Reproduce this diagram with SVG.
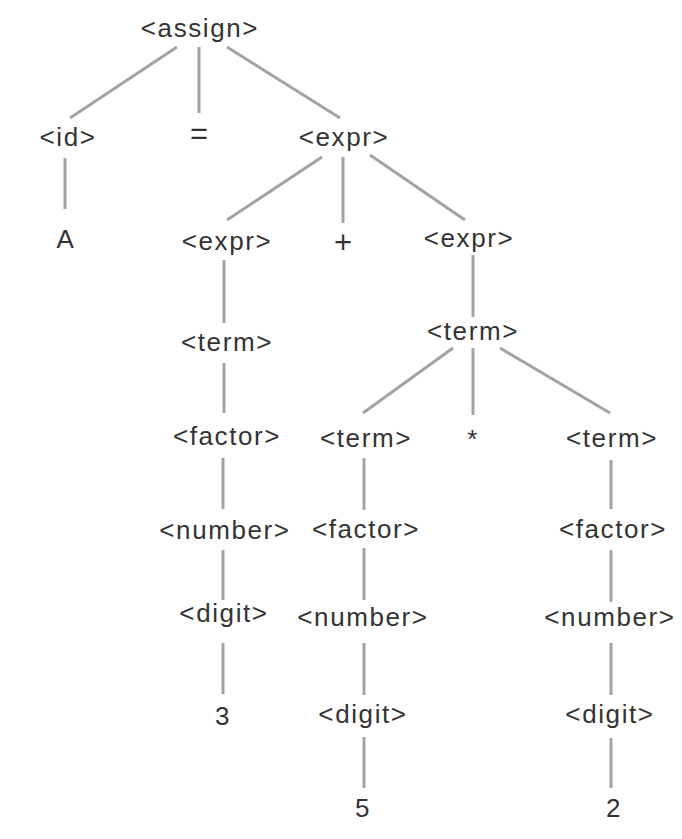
<svg xmlns="http://www.w3.org/2000/svg" width="682" height="839" viewBox="0 0 682 839">
<style>
.t{font-family:"Liberation Sans",Arial,sans-serif;font-size:26px;letter-spacing:1.6px;fill:#333;text-anchor:middle}
.s{font-family:"Liberation Sans",Arial,sans-serif;font-size:31px;fill:#333;text-anchor:middle}
.e{stroke:#a3a3a3;stroke-width:3;fill:none;stroke-linecap:butt}
</style>
<rect width="682" height="839" fill="#fff"/>
<g id="connectors" class="e">
<line x1="177" y1="47" x2="70" y2="118"/>
<line x1="199" y1="47" x2="199" y2="113"/>
<line x1="227" y1="47" x2="340" y2="118"/>
<line x1="65" y1="158" x2="65" y2="209"/>
<line x1="322" y1="157" x2="227" y2="220"/>
<line x1="343" y1="157" x2="343" y2="223"/>
<line x1="370" y1="155" x2="465" y2="220"/>
<line x1="224" y1="260" x2="224" y2="323"/>
<line x1="224" y1="363" x2="224" y2="413"/>
<line x1="223" y1="458" x2="223" y2="509"/>
<line x1="223" y1="550" x2="223" y2="600"/>
<line x1="223" y1="643" x2="223" y2="694"/>
<line x1="473" y1="255" x2="473" y2="317"/>
<line x1="453" y1="348" x2="363" y2="413"/>
<line x1="473" y1="348" x2="473" y2="415"/>
<line x1="500" y1="348" x2="610" y2="413"/>
<line x1="364" y1="458" x2="364" y2="510"/>
<line x1="364" y1="548" x2="364" y2="600"/>
<line x1="364" y1="643" x2="364" y2="695"/>
<line x1="364" y1="737" x2="364" y2="788"/>
<line x1="611" y1="460" x2="611" y2="509"/>
<line x1="611" y1="550" x2="611" y2="602"/>
<line x1="611" y1="643" x2="611" y2="695"/>
<line x1="611" y1="738" x2="611" y2="788"/>
</g>
<g id="n-assign"><text class="t" x="200" y="37">&lt;assign&gt;</text></g>
<g id="n-id"><text class="t" x="68" y="146">&lt;id&gt;</text></g>
<g id="n-eq"><text class="s" x="199" y="144">=</text></g>
<g id="n-expr1"><text class="t" x="344" y="146">&lt;expr&gt;</text></g>
<g id="n-A"><text class="t" x="66" y="248">A</text></g>
<g id="n-expr2"><text class="t" x="227" y="250">&lt;expr&gt;</text></g>
<g id="n-plus"><text class="s" x="343" y="253">+</text></g>
<g id="n-expr3"><text class="t" x="469" y="247">&lt;expr&gt;</text></g>
<g id="n-term1"><text class="t" x="227" y="351">&lt;term&gt;</text></g>
<g id="n-term2"><text class="t" x="473" y="340">&lt;term&gt;</text></g>
<g id="n-factor1"><text class="t" x="227" y="445">&lt;factor&gt;</text></g>
<g id="n-term3"><text class="t" x="366" y="447">&lt;term&gt;</text></g>
<g id="n-star"><text class="t" x="473" y="448">*</text></g>
<g id="n-term4"><text class="t" x="612" y="447">&lt;term&gt;</text></g>
<g id="n-number1"><text class="t" x="225" y="539">&lt;number&gt;</text></g>
<g id="n-factor2"><text class="t" x="366" y="538">&lt;factor&gt;</text></g>
<g id="n-factor3"><text class="t" x="613" y="538">&lt;factor&gt;</text></g>
<g id="n-digit1"><text class="t" x="224" y="622">&lt;digit&gt;</text></g>
<g id="n-number2"><text class="t" x="363" y="626">&lt;number&gt;</text></g>
<g id="n-number3"><text class="t" x="610" y="626">&lt;number&gt;</text></g>
<g id="n-3"><text class="t" x="223" y="725">3</text></g>
<g id="n-digit2"><text class="t" x="363" y="723">&lt;digit&gt;</text></g>
<g id="n-digit3"><text class="t" x="610" y="723">&lt;digit&gt;</text></g>
<g id="n-5"><text class="t" x="363" y="817">5</text></g>
<g id="n-2"><text class="t" x="614" y="817">2</text></g>
</svg>
